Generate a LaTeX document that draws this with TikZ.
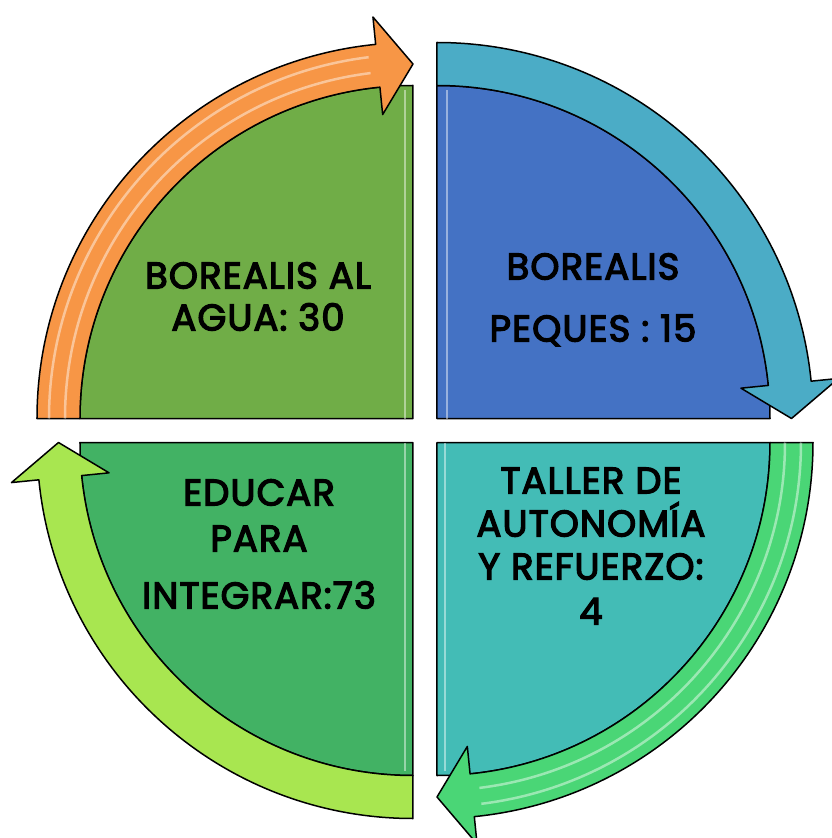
\documentclass[tikz,border=0pt]{standalone}
\usepackage{fontspec}
\setmainfont{Poppins}
\newfontfamily\labelfont{Poppins}[FakeBold=3.5, LetterSpace=3]
\usetikzlibrary{positioning}

\definecolor{aguafill}{HTML}{70AD47}
\definecolor{aguaband}{HTML}{F79646}
\definecolor{pequesfill}{HTML}{4472C4}
\definecolor{pequesband}{HTML}{4BACC6}
\definecolor{tallerfill}{HTML}{43BCB6}
\definecolor{tallerband}{HTML}{4AD676}
\definecolor{educarfill}{HTML}{42B264}
\definecolor{educarband}{HTML}{A8E650}

\tikzset{
  sector/.style={draw=black, line width=1.5pt, line join=round},
  band/.style={draw=black, line width=1.5pt, line join=round},
  gloss/.style={white, opacity=.45, line width=2.5pt},
  label/.style={font=\labelfont\fontsize{37}{43}\selectfont}
}

\begin{document}
\begin{tikzpicture} [x=1pt, y=1pt, node distance = 43pt, text height=1.5ex, text depth=.25ex]
    \useasboundingbox (-425,-407.5) rectangle (406,430.5);
    % top left quarter
    \begin{scope}[shift={(-12,12)}]
      \filldraw [sector, fill=aguafill] (0,0) -- (180:333) arc [start angle=180, end angle=90, radius=333] -- cycle;
      \draw [gloss] (-8,0) -- (-8,328);
      \filldraw [band, fill=aguaband] (180:333) -- (180:376) arc [start angle=180, end angle=95.7, radius=376]
        -- (95.7:403.5) -- (90:354.5) -- (95.7:305.5) -- (95.7:333) arc [start angle=95.7, end angle=180, radius=333] -- cycle;
      \draw [gloss] (180:348) arc [start angle=180, end angle=97, radius=348];
      \draw [gloss] (180:364) arc [start angle=180, end angle=97, radius=364];
    \end{scope}
    % top right quarter
    \begin{scope}[shift={(12,12)}]
      \filldraw [sector, fill=pequesfill] (0,0) -- (90:333) arc [start angle=90, end angle=0, radius=333] -- cycle;
      \draw [gloss] (10,0) -- (10,328);
      \filldraw [band, fill=pequesband] (90:333) -- (90:376) arc [start angle=90, end angle=5.7, radius=376]
        -- (5.7:403.5) -- (0:354.5) -- (5.7:305.5) -- (5.7:333) arc [start angle=5.7, end angle=90, radius=333] -- cycle;
    \end{scope}
    % bottom right quarter
    \begin{scope}[shift={(12,-12)}]
      \filldraw [sector, fill=tallerfill] (0,0) -- (0:333) arc [start angle=0, end angle=-90, radius=333] -- cycle;
      \draw [gloss] (8,0) -- (8,-328);
      \filldraw [band, fill=tallerband] (0:333) -- (0:376) arc [start angle=0, end angle=-84.3, radius=376]
        -- (-84.3:403.5) -- (-90:354.5) -- (-84.3:305.5) -- (-84.3:333) arc [start angle=-84.3, end angle=0, radius=333] -- cycle;
      \draw [gloss] (0:348) arc [start angle=0, end angle=-83, radius=348];
      \draw [gloss] (0:364) arc [start angle=0, end angle=-83, radius=364];
    \end{scope}
    % bottom left quarter
    \begin{scope}[shift={(-12,-12)}]
      \filldraw [sector, fill=educarfill] (0,0) -- (-90:333) arc [start angle=-90, end angle=-180, radius=333] -- cycle;
      \draw [gloss] (-8,0) -- (-8,-328);
      \filldraw [band, fill=educarband] (-90:333) -- (-90:376) arc [start angle=-90, end angle=-174.3, radius=376]
        -- (-174.3:403.5) -- (-180:354.5) -- (-174.3:305.5) -- (-174.3:333) arc [start angle=-174.3, end angle=-90, radius=333] -- cycle;
    \end{scope}
    % place labels
    \node [label] (agua1) at (-167,145.5) {BOREALIS AL};
    \node [label, below of = agua1, node distance = 42pt] (agua2) {AGUA: 30};
    \node [label] (peques1) at (168,154.5) {BOREALIS};
    \node [label, below of = peques1, node distance = 62pt] (peques2) {PEQUES : 15};
    \node [label] (taller1) at (166,-59.5) {TALLER DE};
    \node [label, below of = taller1] (taller2) {AUTONOMÍA};
    \node [label, below of = taller2] (taller3) {Y REFUERZO:};
    \node [label, below of = taller3, node distance = 45pt] (taller4) {4};
    \node [label] (educar1) at (-166,-71.5) {EDUCAR};
    \node [label, below of = educar1, node distance = 46pt] (educar2) {PARA};
    \node [label, below of = educar2, node distance = 57pt] (educar3) {INTEGRAR:73};
  \end{tikzpicture}
\end{document}
